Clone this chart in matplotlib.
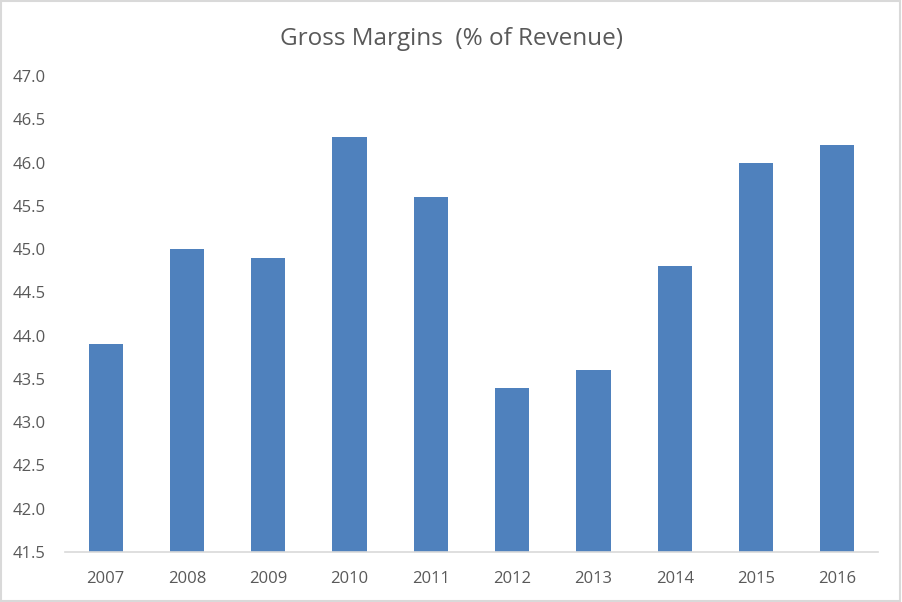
import matplotlib.pyplot as plt
from matplotlib.patches import Rectangle

years = ['2007', '2008', '2009', '2010', '2011', '2012', '2013', '2014', '2015', '2016']
margins = [43.9, 45.0, 44.9, 46.3, 45.6, 43.4, 43.6, 44.8, 46.0, 46.2]
yticks = [41.5, 42.0, 42.5, 43.0, 43.5, 44.0, 44.5, 45.0, 45.5, 46.0, 46.5, 47.0]

plt.rcParams['font.family'] = ['Open Sans', 'DejaVu Sans']
text_color = '#595959'

fig = plt.figure(figsize=(9.02, 6.02), dpi=100)
ax = fig.add_axes([65 / 902, 1 - 552 / 602, 813 / 902, 476 / 602])

x = range(len(years))
ax.bar(x, margins, width=0.42, color='#4F81BD')

ax.set_xlim(-0.5, len(years) - 0.5)
ax.set_ylim(41.5, 47.0)
ax.set_yticks(yticks)
ax.set_yticklabels([f'{v:.1f}' for v in yticks])
ax.set_xticks(list(x))
ax.set_xticklabels(years)

for side in ['top', 'right', 'left']:
    ax.spines[side].set_visible(False)
ax.spines['bottom'].set_color('#D9D9D9')
ax.spines['bottom'].set_linewidth(1.2)
ax.tick_params(axis='both', length=0, labelsize=12, colors=text_color)
ax.tick_params(axis='y', pad=14)
ax.tick_params(axis='x', pad=14)

fig.text(0.5, 1 - 39 / 602, 'Gross Margins  (% of Revenue)', ha='center', va='center',
         fontsize=17.5, color=text_color)

# thin frame round the whole chart
fig.patches.append(Rectangle((0.001, 0.001), 0.997, 0.997, transform=fig.transFigure,
                             fill=False, edgecolor='#D9D9D9', linewidth=1.5))

fig.savefig('out.png', dpi=100)
